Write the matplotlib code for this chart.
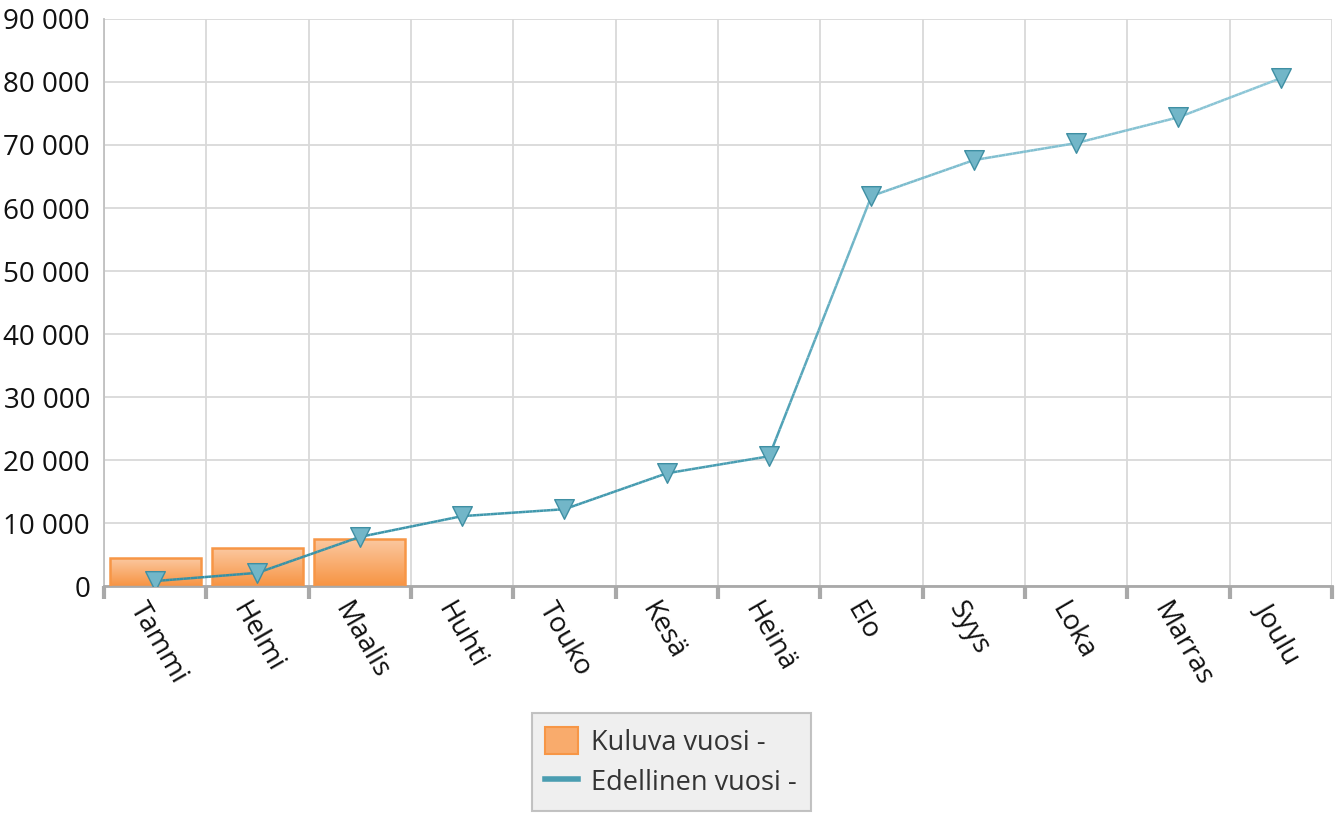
"""Kuluva vs edellinen vuosi -kaavio."""
import numpy as np
import matplotlib
matplotlib.use("Agg")
import matplotlib.pyplot as plt
from matplotlib.collections import LineCollection
from matplotlib.colors import LinearSegmentedColormap
from matplotlib.patches import Patch
from matplotlib.lines import Line2D
from matplotlib.ticker import FuncFormatter, MultipleLocator

months = ["Tammi", "Helmi", "Maalis", "Huhti", "Touko", "Kesä",
          "Heinä", "Elo", "Syys", "Loka", "Marras", "Joulu"]
current_year = [4400, 6000, 7400]
previous_year = [800, 2100, 7800, 11100, 12200, 17900,
                 20600, 61900, 67600, 70300, 74400, 80600]

plt.rcParams["font.family"] = ["Open Sans", "DejaVu Sans"]

fig = plt.figure(figsize=(13.4, 8.14), dpi=100)
ax = fig.add_axes([0.0776, 0.280, 0.9164, 0.6967])

x = np.arange(len(months))
ax.set_xlim(-0.5, len(months) - 0.5)
ax.set_ylim(0, 90000)

# bars with vertical orange gradient
bar_cmap = LinearSegmentedColormap.from_list("bar", ["#f79443", "#fbc8a0"])
bars = ax.bar(x[:len(current_year)], current_year, width=0.89,
              color="none", edgecolor="#f79646", linewidth=1.8, zorder=3)
grad = np.linspace(0, 1, 256).reshape(-1, 1)
for b in bars:
    x0, y0 = b.get_x(), b.get_y()
    w, h = b.get_width(), b.get_height()
    im = ax.imshow(grad, cmap=bar_cmap, origin="lower", aspect="auto",
                   extent=[x0, x0 + w, y0, y0 + h], zorder=2)
    im.set_clip_path(b)

# line with gradient (dark teal low, light teal high)
line_cmap = LinearSegmentedColormap.from_list("ln", ["#3390a6", "#93cada"])
segs = []
cols = []
for i in range(len(x) - 1):
    t = np.linspace(0, 1, 30)
    xs = x[i] + (x[i + 1] - x[i]) * t
    ys = previous_year[i] + (previous_year[i + 1] - previous_year[i]) * t
    p = np.column_stack([xs, ys])
    for a, b2 in zip(p[:-1], p[1:]):
        segs.append([a, b2])
        cols.append((a[1] + b2[1]) / 2 / 85000)
lc = LineCollection(segs, colors=line_cmap(np.clip(cols, 0, 1)),
                    linewidths=1.8, zorder=4)
ax.add_collection(lc)
ax.scatter(x, previous_year, marker="v", s=200, color="#72b6c8",
           edgecolors="#3f8fa3", linewidths=1.0, zorder=5)

# grid
ax.yaxis.set_major_locator(MultipleLocator(10000))
ax.yaxis.set_major_formatter(FuncFormatter(lambda v, _: f"{int(v):,}".replace(",", " ")))
ax.set_xticks(np.arange(-0.5, len(months), 1.0))
ax.set_xticklabels([])
ax.grid(True, color="#d9d9d9", linewidth=1.3, zorder=0)
ax.set_axisbelow(True)

for s in ["top", "right"]:
    ax.spines[s].set_visible(False)
ax.spines["left"].set_color("#c0c0c0")
ax.spines["left"].set_linewidth(1.3)
ax.spines["bottom"].set_color("#a9a9a9")
ax.spines["bottom"].set_linewidth(2)
ax.tick_params(axis="y", length=0, labelsize=20, pad=10, labelcolor="#111111")
ax.tick_params(axis="x", length=9, width=3, color="#a9a9a9", direction="out")

for xi, name in zip(x, months):
    ax.text(xi - 0.07, -1800, name, rotation=-60, rotation_mode="anchor",
            ha="left", va="top", fontsize=20, color="#111111")

handles = [Patch(facecolor="#f9ab6c", edgecolor="#f79646", linewidth=1.5),
           Line2D([], [], color="#4a9db1", linewidth=4)]
leg = fig.legend(handles, ["Kuluva vuosi -", "Edellinen vuosi -"],
                 loc="upper center", bbox_to_anchor=(0.501, 0.124),
                 fontsize=19.5, frameon=True, fancybox=False,
                 handlelength=1.2, handleheight=1.2, handletextpad=0.5,
                 borderpad=0.5, labelspacing=0.4, borderaxespad=0)
leg.get_frame().set_facecolor("#ebebeb")
leg.get_frame().set_edgecolor("#b5b5b5")
leg.get_frame().set_linewidth(1.5)
for t in leg.get_texts():
    t.set_color("#333333")

fig.savefig("out.png", dpi=100)
